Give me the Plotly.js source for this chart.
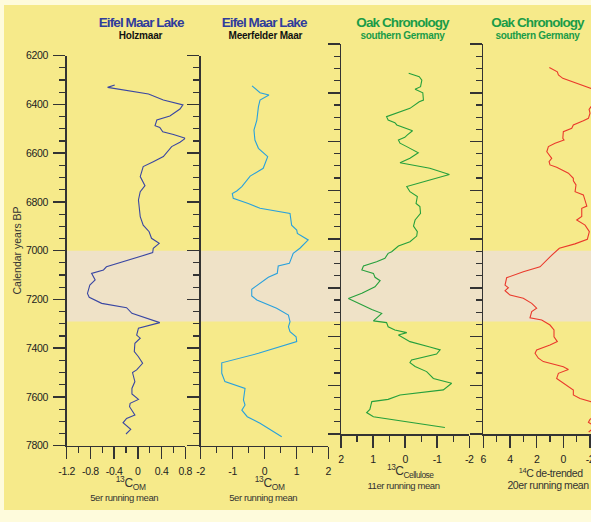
<!DOCTYPE html>
<html>
<head>
<meta charset="utf-8">
<script src="https://cdn.plot.ly/plotly-3.0.1.min.js"></script>
<style>
html,body{margin:0;padding:0;overflow:hidden;background:#fefbdc;width:591px;height:522px;}
#bg{position:absolute;left:4px;top:5px;width:700px;height:505px;background:#f6ea8a;}
#chart{position:absolute;left:0;top:0;width:700px;height:522px;}
</style>
</head>
<body>
<div id="bg"></div>
<div id="chart"></div>
<script>
// Holzmaar 13C_OM (5er running mean)
const yrsHolz = [6320,6330,6357,6382,6402,6419,6447,6464,6487,6494,6512,6523,6539,6555,6573,6614,6635,6655,6696,6733,6758,6792,6860,6895,6922,6949,6970,6990,7008,7066,7079,7093,7120,7141,7175,7191,7216,7234,7257,7295,7318,7346,7359,7380,7414,7435,7462,7489,7500,7537,7565,7588,7610,7626,7640,7674,7688,7706,7733,7752];
const valHolz = [-0.39,-0.51,0.18,0.43,0.76,0.71,0.54,0.32,0.29,0.37,0.42,0.60,0.80,0.71,0.57,0.43,0.26,0.09,0.04,0.12,0.04,0.01,0.04,0.09,0.19,0.23,0.36,0.26,0.25,-0.53,-0.58,-0.78,-0.72,-0.81,-0.85,-0.82,-0.61,-0.19,-0.10,0.37,0.01,-0.02,0.04,-0.05,-0.06,0.01,0.08,-0.02,-0.09,-0.05,-0.10,-0.10,0.01,-0.13,-0.14,-0.05,-0.19,-0.25,-0.12,-0.20];

// Meerfelder Maar 13C_OM (5er running mean)
const yrsMeer = [6324,6352,6361,6382,6409,6464,6505,6546,6580,6614,6662,6694,6737,6755,6765,6785,6806,6826,6847,6895,6915,6929,6956,6990,7011,7052,7063,7093,7109,7134,7158,7186,7202,7236,7264,7291,7312,7332,7353,7373,7421,7460,7503,7537,7565,7612,7633,7654,7681,7708,7763];
const valMeer = [-0.39,-0.14,0.14,-0.14,-0.19,-0.24,-0.33,-0.30,-0.19,0.10,-0.04,-0.45,-0.71,-0.87,-1.01,-0.98,-0.51,-0.14,0.80,0.85,1.01,1.03,1.37,1.11,0.90,0.78,0.43,0.40,0.12,-0.14,-0.40,-0.40,-0.24,0.38,0.75,0.80,0.75,0.80,0.99,1.01,-0.19,-1.34,-1.34,-1.24,-0.61,-0.66,-0.61,-0.71,-0.54,-0.14,0.54];

// Oak chronology 13C_Cellulose (11er running mean)
const yrsOak13 = [6320,6334,6348,6375,6386,6392,6400,6430,6437,6464,6484,6498,6512,6523,6532,6546,6556,6573,6583,6594,6607,6621,6646,6669,6687,6710,6735,6758,6785,6806,6826,6854,6867,6895,6922,6947,6970,6988,7011,7029,7052,7059,7079,7093,7111,7127,7141,7157,7171,7196,7223,7244,7271,7289,7305,7336,7343,7360,7373,7384,7394,7421,7443,7455,7472,7496,7507,7523,7544,7572,7592,7619,7640,7658,7667,7699,7712,7729,7773];
const valOak13 = [-0.11,-0.44,-0.52,-0.48,-0.31,-0.44,-0.55,-0.57,-0.44,-0.15,0.26,0.58,0.53,0.32,0.26,-0.07,-0.23,-0.07,0.01,0.21,0.16,-0.05,-0.41,-0.15,0.16,-0.77,-1.38,-0.77,-0.05,-0.15,-0.38,-0.34,-0.46,-0.48,-0.31,-0.26,-0.38,-0.36,-0.15,0.21,0.42,0.53,0.63,0.89,1.30,1.35,0.99,0.94,0.78,0.94,1.35,1.77,1.35,1.04,0.73,0.99,0.58,0.53,0.32,-0.05,0.21,-0.15,-0.77,-1.09,-0.98,-0.20,-0.15,-0.31,-0.67,-0.88,-1.45,-1.19,0.16,0.53,1.04,1.10,1.20,0.99,-1.24];

// Oak chronology 14C de-trended (20er running mean)
const yrsOak14 = [6296,6314,6327,6341,6382,6420,6457,6468,6484,6505,6515,6532,6546,6560,6587,6594,6607,6621,6642,6655,6669,6683,6696,6706,6730,6751,6761,6778,6806,6819,6833,6865,6874,6908,6922,6943,6970,7001,7020,7038,7073,7114,7134,7159,7189,7200,7212,7230,7243,7264,7284,7298,7323,7332,7353,7373,7401,7421,7435,7455,7469,7489,7503,7524,7535,7551,7572,7620,7640,7654,7668,7710,7740,7752,7770,7792];
const valOak14 = [1.05,0.45,0.37,0.04,-2.08,-2.6,-2.08,-1.93,-2.0,-1.88,-1.5,-0.75,-0.63,0.0,0.04,-0.05,0.62,1.12,1.24,1.05,0.87,1.07,1.0,0.5,-0.38,-0.75,-0.75,-0.95,-0.88,-1.5,-1.58,-1.76,-1.38,-1.38,-1.0,-1.63,-1.95,-1.8,-0.87,0.3,1.0,1.75,3.0,4.25,4.37,4.12,4.37,4.0,3.0,2.37,2.0,2.37,2.5,1.62,1.0,0.7,0.7,0.45,1.0,2.0,2.12,1.87,1.5,0.0,-0.38,0.37,0.5,-0.75,-0.75,-1.25,-2.08,-2.8,-2.0,-1.88,-2.4,-1.9];

// shaded interval (calendar years BP)
const bandYears = [7000, 7290];

// tick labels
const yTickVals = [6200,6400,6600,6800,7000,7200,7400,7600,7800];
const yTickText = ['6200','6400','6600','6800','7000','7200','7400','7600','7800'];
const x1TickVals = [-1.2,-0.8,-0.4,0,0.4,0.8];
const x1TickText = ['-1.2','-0.8','-0.4','0','0.4','0.8'];
const x2TickVals = [-2,-1,0,1,2];
const x2TickText = ['-2','-1','0','1','2'];
const x3TickVals = [2,1,0,-1,-2];
const x3TickText = ['2','1','0','-1','-2'];
const x4TickVals = [6,4,2,0,-2,-4];
const x4TickText = ['6','4','2','0','-2','-4'];

const W = 700, H = 522;
const px = v => v / W;
const py = v => 1 - v / H;

const AX = '#333333';
const FAM = 'Liberation Sans, Arial, sans-serif';
const tickFont = {family: FAM, size: 10.5, color: '#222'};

function xAxis(d0, d1, range, tv, tt, minorDt, anchor) {
  return {domain: [px(d0), px(d1)], range: range, anchor: anchor,
    showline: true, linecolor: AX, linewidth: 1.5, mirror: false,
    ticks: 'outside', ticklen: 12, tickwidth: 1.5, tickcolor: AX,
    tickmode: 'array', tickvals: tv, ticktext: tt, tickfont: tickFont, ticklabelstandoff: 3,
    minor: {ticks: 'outside', dtick: minorDt, tick0: range[0], ticklen: 6, tickwidth: 1.2, tickcolor: AX, showgrid: false},
    showgrid: false, zeroline: false, fixedrange: true};
}
function yAxis(top, bottom, anchor, labels) {
  return {domain: [py(bottom), py(top)], range: [7800, 6200], anchor: anchor,
    showline: true, linecolor: AX, linewidth: 1.5,
    ticks: 'outside', ticklen: 12, tickwidth: 1.5, tickcolor: AX,
    tickmode: 'array', tickvals: yTickVals, ticktext: yTickText,
    showticklabels: labels, tickfont: tickFont, ticklabelstandoff: 3,
    minor: {ticks: 'outside', dtick: 50, tick0: 6200, ticklen: 6, tickwidth: 1.2, tickcolor: AX, showgrid: false},
    showgrid: false, zeroline: false, fixedrange: true};
}

const traces = [
  {x: valHolz, y: yrsHolz, xaxis: 'x', yaxis: 'y', mode: 'lines', line: {color: '#3a47a3', width: 1.1}},
  {x: valMeer, y: yrsMeer, xaxis: 'x2', yaxis: 'y2', mode: 'lines', line: {color: '#2aa1dc', width: 1.1}},
  {x: valOak13, y: yrsOak13, xaxis: 'x3', yaxis: 'y3', mode: 'lines', line: {color: '#26a03c', width: 1.1}},
  {x: valOak14, y: yrsOak14, xaxis: 'x4', yaxis: 'y4', mode: 'lines', line: {color: '#ea3a2c', width: 1.1}}
];

const blue = '#2f3c9c', green = '#1a9c48';
const spacing = [];
function ann(text, x, y, size, color, bold, ls, extra) {
  spacing.push(ls);
  return Object.assign({text: bold ? '<b>' + text + '</b>' : text, xref: 'paper', yref: 'paper', x: px(x), y: py(y),
    xanchor: 'center', yanchor: 'middle', showarrow: false,
    font: {family: FAM, size: size, color: color}}, extra || {});
}

const layout = {
  width: W, height: H, margin: {l: 0, r: 0, t: 0, b: 0, pad: 0},
  paper_bgcolor: 'rgba(0,0,0,0)', plot_bgcolor: 'rgba(0,0,0,0)',
  showlegend: false,
  xaxis: xAxis(66.7, 185.3, [-1.2, 0.8], x1TickVals, x1TickText, 0.2, 'y'),
  yaxis: yAxis(55.7, 445.7, 'x', true),
  xaxis2: xAxis(200.7, 328.3, [-2, 2], x2TickVals, x2TickText, 0.5, 'y2'),
  yaxis2: yAxis(55.7, 445.7, 'x2', false),
  xaxis3: xAxis(341, 469.3, [2, -2], x3TickVals, x3TickText, 0.5, 'y3'),
  yaxis3: yAxis(44, 434, 'x3', false),
  xaxis4: xAxis(483.3, 616.7, [6, -4], x4TickVals, x4TickText, 1, 'y4'),
  yaxis4: yAxis(44, 434, 'x4', false),
  shapes: [{type: 'rect', xref: 'paper', yref: 'y', x0: px(66.7), x1: 1, y0: bandYears[0], y1: bandYears[1],
    fillcolor: '#efe2c7', line: {width: 0}, layer: 'below'}],
  annotations: [
    ann('Eifel Maar Lake', 141, 22, 13.5, blue, true, -0.9),
    ann('Holzmaar', 140, 35, 10, '#111', true, -0.2),
    ann('Eifel Maar Lake', 264, 22, 13.5, blue, true, -0.9),
    ann('Meerfelder Maar', 265, 35, 10, '#111', true, -0.2),
    ann('Oak Chronology', 402, 22, 13.5, green, true, -0.9),
    ann('southern Germany', 402, 35, 10, green, true, -0.3),
    ann('Oak Chronology', 537.5, 22, 13.5, green, true, -0.9),
    ann('southern Germany', 537.5, 35, 10, green, true, -0.3),
    ann('Calendar years BP', 16.5, 251, 10.5, '#333', false, 0, {textangle: -90}),
    ann('<sup>13</sup>C<sub>OM</sub>', 131, 483, 12, '#333', false, -0.3),
    ann('5er running mean', 124, 497, 9.5, '#333', false, -0.4),
    ann('<sup>13</sup>C<sub>OM</sub>', 270, 483, 12, '#333', false, -0.3),
    ann('5er running mean', 263, 497, 9.5, '#333', false, -0.4),
    ann('<sup>13</sup>C<sub>Cellulose</sub>', 410, 471, 12, '#333', false, -0.5),
    ann('11er running mean', 403, 485, 9.5, '#333', false, -0.4),
    ann('<sup>14</sup>C de-trended', 551, 472, 10.5, '#333', false, -0.4),
    ann('20er running mean', 547.5, 485, 10.5, '#333', false, -0.4)
  ]
};

Plotly.newPlot('chart', traces, layout, {displayModeBar: false, staticPlot: true}).then(gd => {
  const texts = gd.querySelectorAll('.annotation-text');
  texts.forEach((t, i) => {
    if (spacing[i]) t.style.letterSpacing = spacing[i] + 'px';
  });
  gd.querySelectorAll('.xtick text, .ytick text, .x2tick text, .x3tick text, .x4tick text').forEach(t => {
    t.style.letterSpacing = '-0.3px';
  });
});
</script>
</body>
</html>
